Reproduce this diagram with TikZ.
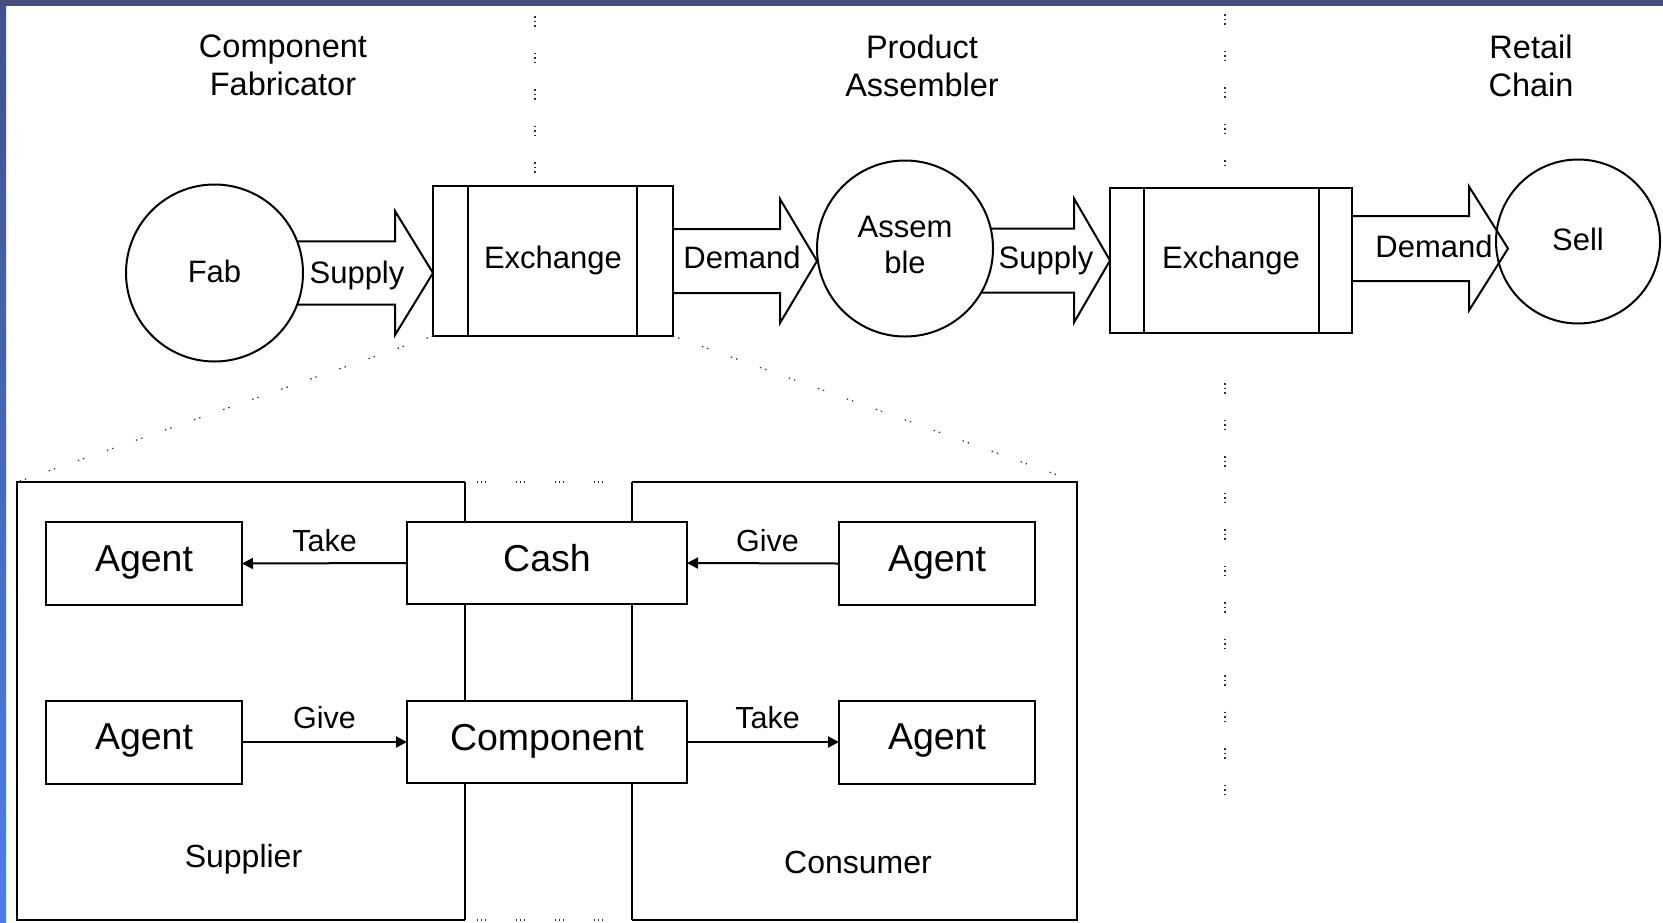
\documentclass[tikz,border=0pt]{standalone}
\usepackage{fontspec}
\setmainfont{Liberation Sans}
\usetikzlibrary{calc,arrows.meta}

\definecolor{bandtop}{HTML}{464E7D}
\definecolor{bandleftA}{HTML}{42508F}
\definecolor{bandleftB}{HTML}{4A7FEA}
\definecolor{dotcol}{HTML}{303030}

% Block arrow: #1 upper shaft start, #2 lower shaft start, #3 tip, #4 head length
\newcommand\blockarrow[4]{%
  \draw[blockline] (#1) -- ($(#1 -| #3)+(-#4,0)$) -- ($(#3)+(-#4,-62)$) -- (#3)
    -- ($(#3)+(-#4,62)$) -- ($(#2 -| #3)+(-#4,0)$) -- (#2);}

\begin{document}
\begin{tikzpicture}[x=0.5pt,y=-0.5pt,
  every node/.style={inner sep=0pt,outer sep=0pt},
  shapeline/.style={draw=black,line width=1pt},
  proc/.style={shapeline,circle,font=\fontsize{15.5}{18}\selectfont,text depth=2pt},
  exch/.style={shapeline,rectangle,font=\fontsize{15.5}{18}\selectfont,text depth=3.5pt},
  blockline/.style={line width=1pt,line join=miter},
  arrlabel/.style={font=\fontsize{15.5}{18}\selectfont,text depth=0pt},
  lane/.style={font=\fontsize{16.25}{19}\selectfont,align=center},
  item/.style={shapeline,rectangle,minimum height=41.5pt,font=\fontsize{18.75}{22}\selectfont,text depth=5pt},
  agent/.style={item,minimum width=98pt},
  stock/.style={item,minimum width=140pt,minimum height=41pt},
  flow/.style={line width=1pt,-{Triangle[length=5.5pt,width=5.5pt]}},
  flowlabel/.style={font=\fontsize{15.25}{18}\selectfont,text depth=0pt},
  partlabel/.style={font=\fontsize{16}{19}\selectfont,text depth=0pt},
  border/.style={line width=1pt},
  zoomline/.style={draw=dotcol,line width=0.6pt,dash pattern=on 0.7pt off 2pt on 0.7pt off 12pt},
  gapline/.style={draw=dotcol,line width=0.6pt,dash pattern=on 0.7pt off 1.3pt on 0.7pt off 1.3pt on 0.7pt off 14.8pt},
  laneline/.style={draw=dotcol,line width=0.7pt,dash pattern=on 0.75pt off 1.5pt on 0.75pt off 1.5pt on 0.75pt off 13pt},
]

% ---- frame ----
\useasboundingbox (0,0) rectangle (1663,922);
\fill[white] (0,0) rectangle (1663,922);
\fill[bandtop] (0,0) rectangle (1663,6);
\shade[top color=bandleftA,bottom color=bandleftB] (0,6) rectangle (6,922);

% ---- lane headings ----
\node[lane] (laneA) at (283,65.5) {Component\\Fabricator};
\node[lane] (laneB) at (922,65.5) {Product\\Assembler};
\node[lane] (laneC) at (1531,65.5) {Retail\\Chain};

% ---- lane separators ----
\coordinate (sepA1) at (535,16);
\coordinate (sepA2) at (535,176);
\coordinate (sepB1) at (1225,14);
\coordinate (sepB2) at (1225,168);
\coordinate (sepB3) at (1225,383);
\coordinate (sepB4) at (1225,800);
\draw[laneline] (sepA1) -- (sepA2);
\draw[laneline] (sepB1) -- (sepB2);
\draw[laneline] (sepB3) -- (sepB4);

% ---- value chain ----
\node[proc,minimum size=88.5pt] (fab) at (214.5,273) {Fab};
\node[exch,minimum width=120pt,minimum height=75pt] (exch1) at (553,261) {Exchange};
\node[proc,minimum size=88pt,align=center,text depth=3.5pt] (asm) at (905,248.5) {Assem\\ble};
\node[exch,minimum width=121pt,minimum height=72.5pt] (exch2) at (1231,260.5) {Exchange};
\node[proc,minimum size=82pt] (sell) at (1578,241.5) {Sell};

\draw[border] ([xshift=17.5pt]exch1.north west) -- ([xshift=17.5pt]exch1.south west);
\draw[border] ([xshift=-18pt]exch1.north east) -- ([xshift=-18pt]exch1.south east);
\draw[border] ([xshift=17pt]exch2.north west) -- ([xshift=17pt]exch2.south west);
\draw[border] ([xshift=-16.5pt]exch2.north east) -- ([xshift=-16.5pt]exch2.south east);

\coordinate (t1) at (exch1.west |- fab.center);
\coordinate (d1a) at ([yshift=16pt]exch1.east);
\coordinate (d1b) at ([yshift=-16pt]exch1.east);
\coordinate (t2) at (asm.west |- exch1.east);
\coordinate (d2a) at ([yshift=22.25pt]exch2.east);
\coordinate (d2b) at ([yshift=-10.25pt]exch2.east);
\coordinate (t4) at ([xshift=6pt,yshift=-3.5pt]sell.west);

\blockarrow{fab.21}{fab.-21}{t1}{38}
\blockarrow{d1a}{d1b}{t2}{37}
\blockarrow{asm.13}{asm.-30}{exch2.west}{36}
\blockarrow{d2a}{d2b}{t4}{39}

\node[arrlabel] (supply1) at (357,272.5) {Supply};
\node[arrlabel] (demand1) at (742,257) {Demand};
\node[arrlabel] (supply2) at (1046,257) {Supply};
\node[arrlabel] (demand2) at (1434,246) {Demand};

% ---- exchange detail ----
\coordinate (sTL) at (17,482);
\coordinate (sTR) at (465,482);
\coordinate (sBL) at (17,920);
\coordinate (sBR) at (465,920);
\coordinate (cTL) at (632,482);
\coordinate (cTR) at (1077,482);
\coordinate (cBL) at (632,920);
\coordinate (cBR) at (1077,920);

\node[agent] (agentTL) at (144,563.5) {Agent};
\node[agent] (agentBL) at (144,742) {Agent};
\node[stock] (cash) at (547,563) {Cash};
\node[stock] (comp) at (547,742) {Component};
\node[agent] (agentTR) at (937,563.5) {Agent};
\node[agent] (agentBR) at (937,742) {Agent};

% supplier and consumer outlines
\draw[border] (sTR) -- (sTL) -- (sBL) -- (sBR);
\draw[border] (sTR) -- (cash.north -| sTR);
\draw[border] (cash.south -| sTR) -- (comp.north -| sTR);
\draw[border] (comp.south -| sTR) -- (sBR);
\draw[border] (cTL) -- (cTR) -- (cBR) -- (cBL);
\draw[border] (cTL) -- (cash.north -| cTL);
\draw[border] (cash.south -| cTL) -- (comp.north -| cTL);
\draw[border] (comp.south -| cTL) -- (cBL);

\node[partlabel] (supplier) at (243.5,856) {Supplier};
\node[partlabel] (consumer) at (858,862.5) {Consumer};

% flows of cash and goods
\draw[flow] (cash.west) -- node[flowlabel,anchor=south,above=6pt] (take1) {Take} (agentTL.east);
\draw[flow] (agentTR.west) -- node[flowlabel,anchor=south,above=6pt,pos=0.47] (give1) {Give} (cash.east);
\draw[flow] (agentBL.east) -- node[flowlabel,anchor=south,above=7pt] (give2) {Give} (comp.west);
\draw[flow] (comp.east) -- node[flowlabel,anchor=south,above=7pt,pos=0.53] (take2) {Take} (agentBR.west);

% ---- zoom outline from the first exchange ----
\draw[zoomline] (exch1.south west) -- (sTL);
\draw[zoomline] (exch1.south east) -- (cTR);
\draw[gapline,shorten <=6pt] (sTR) -- (cTL);
\draw[gapline,shorten <=6pt] (sBR) -- (cBL);
\end{tikzpicture}
\end{document}
